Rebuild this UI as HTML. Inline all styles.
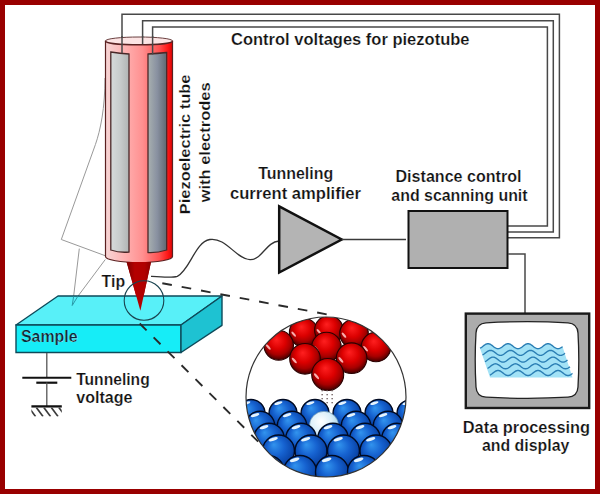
<!DOCTYPE html>
<html><head><meta charset="utf-8"><title>STM</title>
<style>
html,body{margin:0;padding:0;background:#fff;}
body{width:600px;height:494px;overflow:hidden;}
svg{display:block;}
text{font-family:"Liberation Sans",sans-serif;font-weight:bold;fill:#111;stroke:#fff;stroke-width:0.2px;}
</style></head>
<body>
<svg width="600" height="494" viewBox="0 0 600 494">
<defs>
 <linearGradient id="tubeG" x1="105" y1="0" x2="173" y2="0" gradientUnits="userSpaceOnUse">
  <stop offset="0" stop-color="#f6d6d6"/>
  <stop offset="0.3" stop-color="#ffb0b0"/>
  <stop offset="0.55" stop-color="#ff9090"/>
  <stop offset="0.8" stop-color="#ff5050"/>
  <stop offset="0.92" stop-color="#ff1818"/>
  <stop offset="1" stop-color="#d80000"/>
 </linearGradient>
 <linearGradient id="elL" x1="0" y1="0" x2="1" y2="0">
  <stop offset="0" stop-color="#d6dada"/>
  <stop offset="0.5" stop-color="#c8cccc"/>
  <stop offset="1" stop-color="#b0b4b4"/>
 </linearGradient>
 <linearGradient id="elR" x1="0" y1="0" x2="1" y2="0">
  <stop offset="0" stop-color="#a8b0b0"/>
  <stop offset="0.5" stop-color="#8890a0"/>
  <stop offset="1" stop-color="#606870"/>
 </linearGradient>
 <linearGradient id="tipG" x1="126" y1="0" x2="151" y2="0" gradientUnits="userSpaceOnUse">
  <stop offset="0" stop-color="#780000"/>
  <stop offset="0.35" stop-color="#b40000"/>
  <stop offset="0.75" stop-color="#b00000"/>
  <stop offset="1" stop-color="#8a0000"/>
 </linearGradient>
 <radialGradient id="red" cx="0.5" cy="0.42" r="0.6" fx="0.42" fy="0.3">
  <stop offset="0" stop-color="#ff2020"/>
  <stop offset="0.45" stop-color="#dc0000"/>
  <stop offset="0.72" stop-color="#a80000"/>
  <stop offset="0.9" stop-color="#600000"/>
  <stop offset="1" stop-color="#2a0000"/>
 </radialGradient>
 <radialGradient id="blue" cx="0.5" cy="0.45" r="0.6" fx="0.35" fy="0.3">
  <stop offset="0" stop-color="#3294ee"/>
  <stop offset="0.45" stop-color="#1662d0"/>
  <stop offset="0.8" stop-color="#0a46aa"/>
  <stop offset="0.95" stop-color="#052670"/>
  <stop offset="1" stop-color="#001238"/>
 </radialGradient>
 <radialGradient id="lblue" cx="0.4" cy="0.35" r="0.7">
  <stop offset="0" stop-color="#ffffff"/>
  <stop offset="0.5" stop-color="#dcf0fa"/>
  <stop offset="1" stop-color="#98cce8"/>
 </radialGradient>
 <clipPath id="mag"><circle cx="326" cy="397" r="80"/></clipPath>
</defs>

<!-- border -->
<rect x="2.5" y="2.5" width="595" height="489" fill="#fff" stroke="#990000" stroke-width="5"/>

<!-- control wires -->
<g fill="none" stroke="#484848" stroke-width="1.5">
 <polyline points="122,53 122,14.3 559.4,14.3 559.4,237.8 508,237.8"/>
 <polyline points="142.6,43 142.6,20.7 553.3,20.7 553.3,232 508,232"/>
 <polyline points="152.6,54 152.6,27 547.4,27 547.4,226.1 508,226.1"/>
</g>

<!-- ghost bent tube -->
<g fill="none" stroke="#999" stroke-width="1">
 <path d="M105,78 C105,108 100.5,130 95.4,144.6 L61.3,239.5 L106,256"/>
 <path d="M79.3,248.6 L73.6,296.5"/>
 <path d="M105.3,259.5 L77.7,296.5"/>
</g>
<!-- tube -->
<path d="M105.5,41 L105.5,256.5 A33.5,6 0 0 0 172.5,256.5 L172.5,41 Z" fill="url(#tubeG)" stroke="#5a2020" stroke-width="1.2"/>
<ellipse cx="139" cy="40.9" rx="33.5" ry="3.9" fill="#fce4e4"/>
<path d="M105.5,40.9 A33.5,3.9 0 0 1 172.5,40.9" fill="none" stroke="#6a4040" stroke-width="1"/>
<path d="M105.5,40.9 A33.5,3.9 0 0 0 172.5,40.9" fill="none" stroke="#5a2222" stroke-width="1.5"/>
<!-- electrodes -->
<path d="M110.8,52 Q120,53.5 129,54 L129,252 Q120,253 110.8,250 Z" fill="url(#elL)" stroke="#4a2828" stroke-width="1.3"/>
<path d="M148,54 Q157,53.5 166.7,52.5 L166.7,250 Q157,253 148,252.5 Z" fill="url(#elR)" stroke="#4a2828" stroke-width="1.3"/>
<!-- wire ends over tube top -->
<g stroke="#484848" stroke-width="1.5">
 <line x1="122" y1="36" x2="122" y2="53"/>
 <line x1="142.6" y1="36" x2="142.6" y2="44"/>
 <line x1="152.6" y1="36" x2="152.6" y2="54.5"/>
</g>
<!-- tip -->
<polygon points="126.6,262 151,262 140.4,310.8" fill="url(#tipG)"/>

<!-- sample -->
<polygon points="58,296 222,296 181,325 16,325" fill="#58f0f8" stroke="#0d4a5a" stroke-width="1.4" stroke-linejoin="round"/>
<polygon points="16,325 181,325 181,352.5 16,352.5" fill="#16edf7" stroke="#0d4a5a" stroke-width="1.4"/>
<polygon points="181,325 222,296 222,325.3 181,352.5" fill="#1ec2d2" stroke="#0d4a5a" stroke-width="1.4" stroke-linejoin="round"/>

<g fill="none" stroke="#2a9aa8" stroke-width="1">
 <path d="M73.6,296.5 L72.2,305.5 L77.7,296.5"/>
</g>
<!-- tip over sample -->
<polygon points="126.6,262 151,262 140.4,310.8" fill="url(#tipG)"/>

<!-- small circle -->
<circle cx="144" cy="300.5" r="19.8" fill="none" stroke="#1a4450" stroke-width="1.1"/>

<!-- dashed lines -->
<g stroke="#2a2a2a" stroke-width="1.9" stroke-dasharray="9.7,10" fill="none">
 <line x1="162.3" y1="283.2" x2="327.5" y2="314.5"/>
 <line x1="139.7" y1="323.5" x2="258.5" y2="442"/>
</g>

<!-- magnified circle -->
<circle cx="326" cy="397" r="80" fill="#fff"/>
<g clip-path="url(#mag)">
 <circle cx="303.7" cy="332.5" r="14.3" fill="url(#red)" stroke="#2a0000" stroke-width="1.1"/>
 <ellipse cx="293.7" cy="334.1" rx="3.2" ry="1.1" transform="rotate(50 293.7 334.1)" fill="#ffc0c0" opacity="0.9"/>
 <circle cx="328.9" cy="330" r="14.3" fill="url(#red)" stroke="#2a0000" stroke-width="1.1"/>
 <ellipse cx="318.9" cy="331.6" rx="3.2" ry="1.1" transform="rotate(50 318.9 331.6)" fill="#ffc0c0" opacity="0.9"/>
 <circle cx="354" cy="333.6" r="14.3" fill="url(#red)" stroke="#2a0000" stroke-width="1.1"/>
 <ellipse cx="344.0" cy="335.2" rx="3.2" ry="1.1" transform="rotate(50 344.0 335.2)" fill="#ffc0c0" opacity="0.9"/>
 <circle cx="278.7" cy="345.3" r="14.8" fill="url(#red)" stroke="#2a0000" stroke-width="1.1"/>
 <ellipse cx="268.3" cy="347.0" rx="3.4" ry="1.1" transform="rotate(50 268.3 347.0)" fill="#ffc0c0" opacity="0.9"/>
 <circle cx="326.5" cy="347" r="14.8" fill="url(#red)" stroke="#2a0000" stroke-width="1.1"/>
 <ellipse cx="316.1" cy="348.7" rx="3.4" ry="1.1" transform="rotate(50 316.1 348.7)" fill="#ffc0c0" opacity="0.9"/>
 <circle cx="376" cy="347" r="14.8" fill="url(#red)" stroke="#2a0000" stroke-width="1.1"/>
 <ellipse cx="365.6" cy="348.7" rx="3.4" ry="1.1" transform="rotate(50 365.6 348.7)" fill="#ffc0c0" opacity="0.9"/>
 <circle cx="305" cy="358.8" r="15.3" fill="url(#red)" stroke="#2a0000" stroke-width="1.1"/>
 <ellipse cx="294.3" cy="360.5" rx="3.5" ry="1.2" transform="rotate(50 294.3 360.5)" fill="#ffc0c0" opacity="0.9"/>
 <circle cx="351.6" cy="358.2" r="15.3" fill="url(#red)" stroke="#2a0000" stroke-width="1.1"/>
 <ellipse cx="340.9" cy="359.9" rx="3.5" ry="1.2" transform="rotate(50 340.9 359.9)" fill="#ffc0c0" opacity="0.9"/>
 <circle cx="327.7" cy="374.5" r="16.0" fill="url(#red)" stroke="#2a0000" stroke-width="1.1"/>
 <ellipse cx="316.5" cy="376.3" rx="3.6" ry="1.2" transform="rotate(50 316.5 376.3)" fill="#ffc0c0" opacity="0.9"/>
 <g fill="#665555">
  <rect x="321.5" y="390" width="1.3" height="1.3"/><rect x="326.5" y="390" width="1.3" height="1.3"/><rect x="331.5" y="390" width="1.3" height="1.3"/>
  <rect x="321.5" y="394" width="1.3" height="1.3"/><rect x="326.5" y="394" width="1.3" height="1.3"/><rect x="331.5" y="394" width="1.3" height="1.3"/>
  <rect x="321.5" y="398" width="1.3" height="1.3"/><rect x="326.5" y="398" width="1.3" height="1.3"/><rect x="331.5" y="398" width="1.3" height="1.3"/>
  <rect x="321.5" y="402" width="1.3" height="1.3"/><rect x="326.5" y="402" width="1.3" height="1.3"/><rect x="331.5" y="402" width="1.3" height="1.3"/>
 </g>
 <circle cx="219" cy="413.5" r="14" fill="url(#blue)" stroke="#000a22" stroke-width="1.4"/>
 <ellipse cx="214.4" cy="403.1" rx="4.2" ry="1.4" transform="rotate(-18 214.4 403.1)" fill="#f0fbff" opacity="0.95"/>
 <circle cx="251" cy="413.5" r="14" fill="url(#blue)" stroke="#000a22" stroke-width="1.4"/>
 <ellipse cx="246.4" cy="403.1" rx="4.2" ry="1.4" transform="rotate(-18 246.4 403.1)" fill="#f0fbff" opacity="0.95"/>
 <circle cx="283" cy="413.5" r="14" fill="url(#blue)" stroke="#000a22" stroke-width="1.4"/>
 <ellipse cx="278.4" cy="403.1" rx="4.2" ry="1.4" transform="rotate(-18 278.4 403.1)" fill="#f0fbff" opacity="0.95"/>
 <circle cx="315" cy="413.5" r="14" fill="url(#blue)" stroke="#000a22" stroke-width="1.4"/>
 <ellipse cx="310.4" cy="403.1" rx="4.2" ry="1.4" transform="rotate(-18 310.4 403.1)" fill="#f0fbff" opacity="0.95"/>
 <circle cx="347" cy="413.5" r="14" fill="url(#blue)" stroke="#000a22" stroke-width="1.4"/>
 <ellipse cx="342.4" cy="403.1" rx="4.2" ry="1.4" transform="rotate(-18 342.4 403.1)" fill="#f0fbff" opacity="0.95"/>
 <circle cx="379" cy="413.5" r="14" fill="url(#blue)" stroke="#000a22" stroke-width="1.4"/>
 <ellipse cx="374.4" cy="403.1" rx="4.2" ry="1.4" transform="rotate(-18 374.4 403.1)" fill="#f0fbff" opacity="0.95"/>
 <circle cx="411" cy="413.5" r="14" fill="url(#blue)" stroke="#000a22" stroke-width="1.4"/>
 <ellipse cx="406.4" cy="403.1" rx="4.2" ry="1.4" transform="rotate(-18 406.4 403.1)" fill="#f0fbff" opacity="0.95"/>
 <circle cx="228" cy="426" r="14.7" fill="url(#blue)" stroke="#000a22" stroke-width="1.4"/>
 <ellipse cx="223.1" cy="415.1" rx="4.4" ry="1.5" transform="rotate(-18 223.1 415.1)" fill="#f0fbff" opacity="0.95"/>
 <circle cx="260" cy="426" r="14.7" fill="url(#blue)" stroke="#000a22" stroke-width="1.4"/>
 <ellipse cx="255.1" cy="415.1" rx="4.4" ry="1.5" transform="rotate(-18 255.1 415.1)" fill="#f0fbff" opacity="0.95"/>
 <circle cx="292" cy="426" r="14.7" fill="url(#blue)" stroke="#000a22" stroke-width="1.4"/>
 <ellipse cx="287.1" cy="415.1" rx="4.4" ry="1.5" transform="rotate(-18 287.1 415.1)" fill="#f0fbff" opacity="0.95"/>
 <circle cx="324" cy="426" r="14.7" fill="url(#lblue)" stroke="#5080a0" stroke-width="0.6"/>
 <circle cx="356" cy="426" r="14.7" fill="url(#blue)" stroke="#000a22" stroke-width="1.4"/>
 <ellipse cx="351.1" cy="415.1" rx="4.4" ry="1.5" transform="rotate(-18 351.1 415.1)" fill="#f0fbff" opacity="0.95"/>
 <circle cx="388" cy="426" r="14.7" fill="url(#blue)" stroke="#000a22" stroke-width="1.4"/>
 <ellipse cx="383.1" cy="415.1" rx="4.4" ry="1.5" transform="rotate(-18 383.1 415.1)" fill="#f0fbff" opacity="0.95"/>
 <circle cx="420" cy="426" r="14.7" fill="url(#blue)" stroke="#000a22" stroke-width="1.4"/>
 <ellipse cx="415.1" cy="415.1" rx="4.4" ry="1.5" transform="rotate(-18 415.1 415.1)" fill="#f0fbff" opacity="0.95"/>
 <circle cx="237" cy="438.5" r="15.3" fill="url(#blue)" stroke="#000a22" stroke-width="1.4"/>
 <ellipse cx="232.0" cy="427.2" rx="4.6" ry="1.5" transform="rotate(-18 232.0 427.2)" fill="#f0fbff" opacity="0.95"/>
 <circle cx="269" cy="438.5" r="15.3" fill="url(#blue)" stroke="#000a22" stroke-width="1.4"/>
 <ellipse cx="264.0" cy="427.2" rx="4.6" ry="1.5" transform="rotate(-18 264.0 427.2)" fill="#f0fbff" opacity="0.95"/>
 <circle cx="301" cy="438.5" r="15.3" fill="url(#blue)" stroke="#000a22" stroke-width="1.4"/>
 <ellipse cx="296.0" cy="427.2" rx="4.6" ry="1.5" transform="rotate(-18 296.0 427.2)" fill="#f0fbff" opacity="0.95"/>
 <circle cx="333" cy="438.5" r="15.3" fill="url(#blue)" stroke="#000a22" stroke-width="1.4"/>
 <ellipse cx="328.0" cy="427.2" rx="4.6" ry="1.5" transform="rotate(-18 328.0 427.2)" fill="#f0fbff" opacity="0.95"/>
 <circle cx="365" cy="438.5" r="15.3" fill="url(#blue)" stroke="#000a22" stroke-width="1.4"/>
 <ellipse cx="360.0" cy="427.2" rx="4.6" ry="1.5" transform="rotate(-18 360.0 427.2)" fill="#f0fbff" opacity="0.95"/>
 <circle cx="397" cy="438.5" r="15.3" fill="url(#blue)" stroke="#000a22" stroke-width="1.4"/>
 <ellipse cx="392.0" cy="427.2" rx="4.6" ry="1.5" transform="rotate(-18 392.0 427.2)" fill="#f0fbff" opacity="0.95"/>
 <circle cx="246" cy="451" r="16" fill="url(#blue)" stroke="#000a22" stroke-width="1.4"/>
 <ellipse cx="240.7" cy="439.2" rx="4.8" ry="1.6" transform="rotate(-18 240.7 439.2)" fill="#f0fbff" opacity="0.95"/>
 <circle cx="278.5" cy="451" r="16" fill="url(#blue)" stroke="#000a22" stroke-width="1.4"/>
 <ellipse cx="273.2" cy="439.2" rx="4.8" ry="1.6" transform="rotate(-18 273.2 439.2)" fill="#f0fbff" opacity="0.95"/>
 <circle cx="311" cy="451" r="16" fill="url(#blue)" stroke="#000a22" stroke-width="1.4"/>
 <ellipse cx="305.7" cy="439.2" rx="4.8" ry="1.6" transform="rotate(-18 305.7 439.2)" fill="#f0fbff" opacity="0.95"/>
 <circle cx="343.5" cy="451" r="16" fill="url(#blue)" stroke="#000a22" stroke-width="1.4"/>
 <ellipse cx="338.2" cy="439.2" rx="4.8" ry="1.6" transform="rotate(-18 338.2 439.2)" fill="#f0fbff" opacity="0.95"/>
 <circle cx="376" cy="451" r="16" fill="url(#blue)" stroke="#000a22" stroke-width="1.4"/>
 <ellipse cx="370.7" cy="439.2" rx="4.8" ry="1.6" transform="rotate(-18 370.7 439.2)" fill="#f0fbff" opacity="0.95"/>
 <circle cx="408" cy="451" r="16" fill="url(#blue)" stroke="#000a22" stroke-width="1.4"/>
 <ellipse cx="402.7" cy="439.2" rx="4.8" ry="1.6" transform="rotate(-18 402.7 439.2)" fill="#f0fbff" opacity="0.95"/>
 <circle cx="236" cy="472" r="16.5" fill="url(#blue)" stroke="#000a22" stroke-width="1.4"/>
 <ellipse cx="230.6" cy="459.8" rx="5.0" ry="1.7" transform="rotate(-18 230.6 459.8)" fill="#f0fbff" opacity="0.95"/>
 <circle cx="268" cy="472" r="16.5" fill="url(#blue)" stroke="#000a22" stroke-width="1.4"/>
 <ellipse cx="262.6" cy="459.8" rx="5.0" ry="1.7" transform="rotate(-18 262.6 459.8)" fill="#f0fbff" opacity="0.95"/>
 <circle cx="300" cy="472" r="16.5" fill="url(#blue)" stroke="#000a22" stroke-width="1.4"/>
 <ellipse cx="294.6" cy="459.8" rx="5.0" ry="1.7" transform="rotate(-18 294.6 459.8)" fill="#f0fbff" opacity="0.95"/>
 <circle cx="332" cy="472" r="16.5" fill="url(#blue)" stroke="#000a22" stroke-width="1.4"/>
 <ellipse cx="326.6" cy="459.8" rx="5.0" ry="1.7" transform="rotate(-18 326.6 459.8)" fill="#f0fbff" opacity="0.95"/>
 <circle cx="364" cy="472" r="16.5" fill="url(#blue)" stroke="#000a22" stroke-width="1.4"/>
 <ellipse cx="358.6" cy="459.8" rx="5.0" ry="1.7" transform="rotate(-18 358.6 459.8)" fill="#f0fbff" opacity="0.95"/>
 <circle cx="396" cy="472" r="16.5" fill="url(#blue)" stroke="#000a22" stroke-width="1.4"/>
 <ellipse cx="390.6" cy="459.8" rx="5.0" ry="1.7" transform="rotate(-18 390.6 459.8)" fill="#f0fbff" opacity="0.95"/>
</g>
<circle cx="326" cy="397" r="80" fill="none" stroke="#333" stroke-width="1.2"/>

<!-- battery -->
<defs><clipPath id="hatch"><rect x="31.4" y="407.4" width="30.4" height="9"/></clipPath></defs>
<g fill="none">
 <line x1="46.8" y1="353" x2="46.8" y2="377.6" stroke="#555" stroke-width="1.3"/>
 <line x1="22.3" y1="377.8" x2="71.3" y2="377.8" stroke="#111" stroke-width="2"/>
 <line x1="36.3" y1="382.7" x2="57.3" y2="382.7" stroke="#111" stroke-width="2.2"/>
 <line x1="46.8" y1="382.6" x2="46.8" y2="406.4" stroke="#555" stroke-width="1.3"/>
 <line x1="31.4" y1="406.4" x2="61.8" y2="406.4" stroke="#111" stroke-width="2.3"/>
 <g stroke="#3a3a3a" stroke-width="1.6" clip-path="url(#hatch)">
  <line x1="28.8" y1="407.4" x2="35.55" y2="416.4"/>
  <line x1="36.3" y1="407.4" x2="43.05" y2="416.4"/>
  <line x1="43.8" y1="407.4" x2="50.55" y2="416.4"/>
  <line x1="51.3" y1="407.4" x2="58.05" y2="416.4"/>
  <line x1="58.8" y1="407.4" x2="65.55" y2="416.4"/>
 </g>
</g>

<!-- wavy wire -->
<path d="M151,276.3 C160,277 172,278 177.3,276.3 C190,270 195,242 209.8,239.5 C226,237 236,259 250,259.7 C262,260 266,242 279,241" fill="none" stroke="#333" stroke-width="1.3"/>

<!-- amplifier -->
<polygon points="279.2,206.3 341.7,239.5 279.2,272.5" fill="#b4b4b4" stroke="#111" stroke-width="2.5" stroke-linejoin="miter"/>
<line x1="341.7" y1="239.5" x2="406" y2="239.5" stroke="#3a3a3a" stroke-width="1.6"/>

<!-- distance control box -->
<rect x="408.5" y="211" width="99" height="57" fill="#b0b0b0" stroke="#111" stroke-width="2"/>
<polyline points="508,254 525,254 525,313" fill="none" stroke="#484848" stroke-width="1.5"/>

<!-- monitor -->
<rect x="465.8" y="313.6" width="123.4" height="94.4" fill="#acacac" stroke="#1a1a1a" stroke-width="2.4"/>
<path d="M486,322.8 C510,321.5 545,321.5 568,322.8 Q577.5,323.5 578,333 C579,350 579,370 578,387 Q577.5,396.5 568,397.2 C545,398.5 510,398.5 486,397.2 Q476.5,396.5 476,387 C475,370 475,350 476,333 Q476.5,323.5 486,322.8 Z" fill="#fff" stroke="#222" stroke-width="1.3"/>
<!-- waves -->
<path d="M480.0,348.22 L480.5,347.97 L481.0,347.67 L481.5,347.33 L482.0,346.97 L482.5,346.59 L483.0,346.20 L483.5,345.81 L484.0,345.43 L484.5,345.07 L485.0,344.73 L485.5,344.43 L486.0,344.18 L486.5,343.97 L487.0,343.82 L487.5,343.73 L488.0,343.70 L488.5,343.73 L489.0,343.82 L489.5,343.97 L490.0,344.18 L490.5,344.43 L491.0,344.73 L491.5,345.07 L492.0,345.43 L492.5,345.81 L493.0,346.20 L493.5,346.59 L494.0,346.97 L494.5,347.33 L495.0,347.67 L495.5,347.97 L496.0,348.22 L496.5,348.43 L497.0,348.58 L497.5,348.67 L498.0,348.70 L498.5,348.67 L499.0,348.58 L499.5,348.43 L500.0,348.22 L500.5,347.97 L501.0,347.67 L501.5,347.33 L502.0,346.97 L502.5,346.59 L503.0,346.20 L503.5,345.81 L504.0,345.43 L504.5,345.07 L505.0,344.73 L505.5,344.43 L506.0,344.18 L506.5,343.97 L507.0,343.82 L507.5,343.73 L508.0,343.70 L508.5,343.73 L509.0,343.82 L509.5,343.97 L510.0,344.18 L510.5,344.43 L511.0,344.73 L511.5,345.07 L512.0,345.43 L512.5,345.81 L513.0,346.20 L513.5,346.59 L514.0,346.97 L514.5,347.33 L515.0,347.67 L515.5,347.97 L516.0,348.22 L516.5,348.43 L517.0,348.58 L517.5,348.67 L518.0,348.70 L518.5,348.67 L519.0,348.58 L519.5,348.43 L520.0,348.22 L520.5,347.97 L521.0,347.67 L521.5,347.33 L522.0,346.97 L522.5,346.59 L523.0,346.20 L523.5,345.81 L524.0,345.43 L524.5,345.07 L525.0,344.73 L525.5,344.43 L526.0,344.18 L526.5,343.97 L527.0,343.82 L527.5,343.73 L528.0,343.70 L528.5,343.73 L529.0,343.82 L529.5,343.97 L530.0,344.18 L530.5,344.43 L531.0,344.73 L531.5,345.07 L532.0,345.43 L532.5,345.81 L533.0,346.20 L533.5,346.59 L534.0,346.97 L534.5,347.33 L535.0,347.67 L535.5,347.97 L536.0,348.22 L536.5,348.43 L537.0,348.58 L537.5,348.67 L538.0,348.70 L538.5,348.67 L539.0,348.58 L539.5,348.43 L540.0,348.22 L540.5,347.97 L541.0,347.67 L541.5,347.33 L542.0,346.97 L542.5,346.59 L543.0,346.20 L543.5,345.81 L544.0,345.43 L544.5,345.07 L545.0,344.73 L545.5,344.43 L546.0,344.18 L546.5,343.97 L547.0,343.82 L547.5,343.73 L548.0,343.70 L548.5,343.73 L549.0,343.82 L549.5,343.97 L550.0,344.18 L550.5,344.43 L551.0,344.73 L551.5,345.07 L552.0,345.43 L552.5,345.81 L553.0,346.20 L553.5,346.59 L554.0,346.97 L554.5,347.33 L555.0,347.67 L555.5,347.97 L556.0,348.22 L556.5,348.43 L557.0,348.58 L557.5,348.67 L558.0,348.70 L558.5,348.67 L559.0,348.58 L559.5,348.43 L560.0,348.22 L560.5,347.97 L561.0,347.67 L561.5,347.33 L562.0,346.97 L562.5,346.59 L572.5,377.5 L490,377.5 Z" fill="#a2e2f6"/>
<g fill="none" stroke="#2a7eb4" stroke-width="1.4">
 <path d="M480.0,348.22 L480.5,347.97 L481.0,347.67 L481.5,347.33 L482.0,346.97 L482.5,346.59 L483.0,346.20 L483.5,345.81 L484.0,345.43 L484.5,345.07 L485.0,344.73 L485.5,344.43 L486.0,344.18 L486.5,343.97 L487.0,343.82 L487.5,343.73 L488.0,343.70 L488.5,343.73 L489.0,343.82 L489.5,343.97 L490.0,344.18 L490.5,344.43 L491.0,344.73 L491.5,345.07 L492.0,345.43 L492.5,345.81 L493.0,346.20 L493.5,346.59 L494.0,346.97 L494.5,347.33 L495.0,347.67 L495.5,347.97 L496.0,348.22 L496.5,348.43 L497.0,348.58 L497.5,348.67 L498.0,348.70 L498.5,348.67 L499.0,348.58 L499.5,348.43 L500.0,348.22 L500.5,347.97 L501.0,347.67 L501.5,347.33 L502.0,346.97 L502.5,346.59 L503.0,346.20 L503.5,345.81 L504.0,345.43 L504.5,345.07 L505.0,344.73 L505.5,344.43 L506.0,344.18 L506.5,343.97 L507.0,343.82 L507.5,343.73 L508.0,343.70 L508.5,343.73 L509.0,343.82 L509.5,343.97 L510.0,344.18 L510.5,344.43 L511.0,344.73 L511.5,345.07 L512.0,345.43 L512.5,345.81 L513.0,346.20 L513.5,346.59 L514.0,346.97 L514.5,347.33 L515.0,347.67 L515.5,347.97 L516.0,348.22 L516.5,348.43 L517.0,348.58 L517.5,348.67 L518.0,348.70 L518.5,348.67 L519.0,348.58 L519.5,348.43 L520.0,348.22 L520.5,347.97 L521.0,347.67 L521.5,347.33 L522.0,346.97 L522.5,346.59 L523.0,346.20 L523.5,345.81 L524.0,345.43 L524.5,345.07 L525.0,344.73 L525.5,344.43 L526.0,344.18 L526.5,343.97 L527.0,343.82 L527.5,343.73 L528.0,343.70 L528.5,343.73 L529.0,343.82 L529.5,343.97 L530.0,344.18 L530.5,344.43 L531.0,344.73 L531.5,345.07 L532.0,345.43 L532.5,345.81 L533.0,346.20 L533.5,346.59 L534.0,346.97 L534.5,347.33 L535.0,347.67 L535.5,347.97 L536.0,348.22 L536.5,348.43 L537.0,348.58 L537.5,348.67 L538.0,348.70 L538.5,348.67 L539.0,348.58 L539.5,348.43 L540.0,348.22 L540.5,347.97 L541.0,347.67 L541.5,347.33 L542.0,346.97 L542.5,346.59 L543.0,346.20 L543.5,345.81 L544.0,345.43 L544.5,345.07 L545.0,344.73 L545.5,344.43 L546.0,344.18 L546.5,343.97 L547.0,343.82 L547.5,343.73 L548.0,343.70 L548.5,343.73 L549.0,343.82 L549.5,343.97 L550.0,344.18 L550.5,344.43 L551.0,344.73 L551.5,345.07 L552.0,345.43 L552.5,345.81 L553.0,346.20 L553.5,346.59 L554.0,346.97 L554.5,347.33 L555.0,347.67 L555.5,347.97 L556.0,348.22 L556.5,348.43 L557.0,348.58 L557.5,348.67 L558.0,348.70 L558.5,348.67 L559.0,348.58 L559.5,348.43 L560.0,348.22 L560.5,347.97 L561.0,347.67 L561.5,347.33 L562.0,346.97 L562.5,346.59"/>
 <path d="M482.5,354.92 L483.0,354.67 L483.5,354.37 L484.0,354.03 L484.5,353.67 L485.0,353.29 L485.5,352.90 L486.0,352.51 L486.5,352.13 L487.0,351.77 L487.5,351.43 L488.0,351.13 L488.5,350.88 L489.0,350.67 L489.5,350.52 L490.0,350.43 L490.5,350.40 L491.0,350.43 L491.5,350.52 L492.0,350.67 L492.5,350.88 L493.0,351.13 L493.5,351.43 L494.0,351.77 L494.5,352.13 L495.0,352.51 L495.5,352.90 L496.0,353.29 L496.5,353.67 L497.0,354.03 L497.5,354.37 L498.0,354.67 L498.5,354.92 L499.0,355.13 L499.5,355.28 L500.0,355.37 L500.5,355.40 L501.0,355.37 L501.5,355.28 L502.0,355.13 L502.5,354.92 L503.0,354.67 L503.5,354.37 L504.0,354.03 L504.5,353.67 L505.0,353.29 L505.5,352.90 L506.0,352.51 L506.5,352.13 L507.0,351.77 L507.5,351.43 L508.0,351.13 L508.5,350.88 L509.0,350.67 L509.5,350.52 L510.0,350.43 L510.5,350.40 L511.0,350.43 L511.5,350.52 L512.0,350.67 L512.5,350.88 L513.0,351.13 L513.5,351.43 L514.0,351.77 L514.5,352.13 L515.0,352.51 L515.5,352.90 L516.0,353.29 L516.5,353.67 L517.0,354.03 L517.5,354.37 L518.0,354.67 L518.5,354.92 L519.0,355.13 L519.5,355.28 L520.0,355.37 L520.5,355.40 L521.0,355.37 L521.5,355.28 L522.0,355.13 L522.5,354.92 L523.0,354.67 L523.5,354.37 L524.0,354.03 L524.5,353.67 L525.0,353.29 L525.5,352.90 L526.0,352.51 L526.5,352.13 L527.0,351.77 L527.5,351.43 L528.0,351.13 L528.5,350.88 L529.0,350.67 L529.5,350.52 L530.0,350.43 L530.5,350.40 L531.0,350.43 L531.5,350.52 L532.0,350.67 L532.5,350.88 L533.0,351.13 L533.5,351.43 L534.0,351.77 L534.5,352.13 L535.0,352.51 L535.5,352.90 L536.0,353.29 L536.5,353.67 L537.0,354.03 L537.5,354.37 L538.0,354.67 L538.5,354.92 L539.0,355.13 L539.5,355.28 L540.0,355.37 L540.5,355.40 L541.0,355.37 L541.5,355.28 L542.0,355.13 L542.5,354.92 L543.0,354.67 L543.5,354.37 L544.0,354.03 L544.5,353.67 L545.0,353.29 L545.5,352.90 L546.0,352.51 L546.5,352.13 L547.0,351.77 L547.5,351.43 L548.0,351.13 L548.5,350.88 L549.0,350.67 L549.5,350.52 L550.0,350.43 L550.5,350.40 L551.0,350.43 L551.5,350.52 L552.0,350.67 L552.5,350.88 L553.0,351.13 L553.5,351.43 L554.0,351.77 L554.5,352.13 L555.0,352.51 L555.5,352.90 L556.0,353.29 L556.5,353.67 L557.0,354.03 L557.5,354.37 L558.0,354.67 L558.5,354.92 L559.0,355.13 L559.5,355.28 L560.0,355.37 L560.5,355.40 L561.0,355.37 L561.5,355.28 L562.0,355.13 L562.5,354.92 L563.0,354.67 L563.5,354.37 L564.0,354.03 L564.5,353.67 L565.0,353.29"/>
 <path d="M485.0,361.62 L485.5,361.37 L486.0,361.07 L486.5,360.73 L487.0,360.37 L487.5,359.99 L488.0,359.60 L488.5,359.21 L489.0,358.83 L489.5,358.47 L490.0,358.13 L490.5,357.83 L491.0,357.58 L491.5,357.37 L492.0,357.22 L492.5,357.13 L493.0,357.10 L493.5,357.13 L494.0,357.22 L494.5,357.37 L495.0,357.58 L495.5,357.83 L496.0,358.13 L496.5,358.47 L497.0,358.83 L497.5,359.21 L498.0,359.60 L498.5,359.99 L499.0,360.37 L499.5,360.73 L500.0,361.07 L500.5,361.37 L501.0,361.62 L501.5,361.83 L502.0,361.98 L502.5,362.07 L503.0,362.10 L503.5,362.07 L504.0,361.98 L504.5,361.83 L505.0,361.62 L505.5,361.37 L506.0,361.07 L506.5,360.73 L507.0,360.37 L507.5,359.99 L508.0,359.60 L508.5,359.21 L509.0,358.83 L509.5,358.47 L510.0,358.13 L510.5,357.83 L511.0,357.58 L511.5,357.37 L512.0,357.22 L512.5,357.13 L513.0,357.10 L513.5,357.13 L514.0,357.22 L514.5,357.37 L515.0,357.58 L515.5,357.83 L516.0,358.13 L516.5,358.47 L517.0,358.83 L517.5,359.21 L518.0,359.60 L518.5,359.99 L519.0,360.37 L519.5,360.73 L520.0,361.07 L520.5,361.37 L521.0,361.62 L521.5,361.83 L522.0,361.98 L522.5,362.07 L523.0,362.10 L523.5,362.07 L524.0,361.98 L524.5,361.83 L525.0,361.62 L525.5,361.37 L526.0,361.07 L526.5,360.73 L527.0,360.37 L527.5,359.99 L528.0,359.60 L528.5,359.21 L529.0,358.83 L529.5,358.47 L530.0,358.13 L530.5,357.83 L531.0,357.58 L531.5,357.37 L532.0,357.22 L532.5,357.13 L533.0,357.10 L533.5,357.13 L534.0,357.22 L534.5,357.37 L535.0,357.58 L535.5,357.83 L536.0,358.13 L536.5,358.47 L537.0,358.83 L537.5,359.21 L538.0,359.60 L538.5,359.99 L539.0,360.37 L539.5,360.73 L540.0,361.07 L540.5,361.37 L541.0,361.62 L541.5,361.83 L542.0,361.98 L542.5,362.07 L543.0,362.10 L543.5,362.07 L544.0,361.98 L544.5,361.83 L545.0,361.62 L545.5,361.37 L546.0,361.07 L546.5,360.73 L547.0,360.37 L547.5,359.99 L548.0,359.60 L548.5,359.21 L549.0,358.83 L549.5,358.47 L550.0,358.13 L550.5,357.83 L551.0,357.58 L551.5,357.37 L552.0,357.22 L552.5,357.13 L553.0,357.10 L553.5,357.13 L554.0,357.22 L554.5,357.37 L555.0,357.58 L555.5,357.83 L556.0,358.13 L556.5,358.47 L557.0,358.83 L557.5,359.21 L558.0,359.60 L558.5,359.99 L559.0,360.37 L559.5,360.73 L560.0,361.07 L560.5,361.37 L561.0,361.62 L561.5,361.83 L562.0,361.98 L562.5,362.07 L563.0,362.10 L563.5,362.07 L564.0,361.98 L564.5,361.83 L565.0,361.62 L565.5,361.37 L566.0,361.07 L566.5,360.73 L567.0,360.37 L567.5,359.99"/>
 <path d="M487.5,368.32 L488.0,368.07 L488.5,367.77 L489.0,367.43 L489.5,367.07 L490.0,366.69 L490.5,366.30 L491.0,365.91 L491.5,365.53 L492.0,365.17 L492.5,364.83 L493.0,364.53 L493.5,364.28 L494.0,364.07 L494.5,363.92 L495.0,363.83 L495.5,363.80 L496.0,363.83 L496.5,363.92 L497.0,364.07 L497.5,364.28 L498.0,364.53 L498.5,364.83 L499.0,365.17 L499.5,365.53 L500.0,365.91 L500.5,366.30 L501.0,366.69 L501.5,367.07 L502.0,367.43 L502.5,367.77 L503.0,368.07 L503.5,368.32 L504.0,368.53 L504.5,368.68 L505.0,368.77 L505.5,368.80 L506.0,368.77 L506.5,368.68 L507.0,368.53 L507.5,368.32 L508.0,368.07 L508.5,367.77 L509.0,367.43 L509.5,367.07 L510.0,366.69 L510.5,366.30 L511.0,365.91 L511.5,365.53 L512.0,365.17 L512.5,364.83 L513.0,364.53 L513.5,364.28 L514.0,364.07 L514.5,363.92 L515.0,363.83 L515.5,363.80 L516.0,363.83 L516.5,363.92 L517.0,364.07 L517.5,364.28 L518.0,364.53 L518.5,364.83 L519.0,365.17 L519.5,365.53 L520.0,365.91 L520.5,366.30 L521.0,366.69 L521.5,367.07 L522.0,367.43 L522.5,367.77 L523.0,368.07 L523.5,368.32 L524.0,368.53 L524.5,368.68 L525.0,368.77 L525.5,368.80 L526.0,368.77 L526.5,368.68 L527.0,368.53 L527.5,368.32 L528.0,368.07 L528.5,367.77 L529.0,367.43 L529.5,367.07 L530.0,366.69 L530.5,366.30 L531.0,365.91 L531.5,365.53 L532.0,365.17 L532.5,364.83 L533.0,364.53 L533.5,364.28 L534.0,364.07 L534.5,363.92 L535.0,363.83 L535.5,363.80 L536.0,363.83 L536.5,363.92 L537.0,364.07 L537.5,364.28 L538.0,364.53 L538.5,364.83 L539.0,365.17 L539.5,365.53 L540.0,365.91 L540.5,366.30 L541.0,366.69 L541.5,367.07 L542.0,367.43 L542.5,367.77 L543.0,368.07 L543.5,368.32 L544.0,368.53 L544.5,368.68 L545.0,368.77 L545.5,368.80 L546.0,368.77 L546.5,368.68 L547.0,368.53 L547.5,368.32 L548.0,368.07 L548.5,367.77 L549.0,367.43 L549.5,367.07 L550.0,366.69 L550.5,366.30 L551.0,365.91 L551.5,365.53 L552.0,365.17 L552.5,364.83 L553.0,364.53 L553.5,364.28 L554.0,364.07 L554.5,363.92 L555.0,363.83 L555.5,363.80 L556.0,363.83 L556.5,363.92 L557.0,364.07 L557.5,364.28 L558.0,364.53 L558.5,364.83 L559.0,365.17 L559.5,365.53 L560.0,365.91 L560.5,366.30 L561.0,366.69 L561.5,367.07 L562.0,367.43 L562.5,367.77 L563.0,368.07 L563.5,368.32 L564.0,368.53 L564.5,368.68 L565.0,368.77 L565.5,368.80 L566.0,368.77 L566.5,368.68 L567.0,368.53 L567.5,368.32 L568.0,368.07 L568.5,367.77 L569.0,367.43 L569.5,367.07 L570.0,366.69"/>
 <path d="M490.0,375.02 L490.5,374.77 L491.0,374.47 L491.5,374.13 L492.0,373.77 L492.5,373.39 L493.0,373.00 L493.5,372.61 L494.0,372.23 L494.5,371.87 L495.0,371.53 L495.5,371.23 L496.0,370.98 L496.5,370.77 L497.0,370.62 L497.5,370.53 L498.0,370.50 L498.5,370.53 L499.0,370.62 L499.5,370.77 L500.0,370.98 L500.5,371.23 L501.0,371.53 L501.5,371.87 L502.0,372.23 L502.5,372.61 L503.0,373.00 L503.5,373.39 L504.0,373.77 L504.5,374.13 L505.0,374.47 L505.5,374.77 L506.0,375.02 L506.5,375.23 L507.0,375.38 L507.5,375.47 L508.0,375.50 L508.5,375.47 L509.0,375.38 L509.5,375.23 L510.0,375.02 L510.5,374.77 L511.0,374.47 L511.5,374.13 L512.0,373.77 L512.5,373.39 L513.0,373.00 L513.5,372.61 L514.0,372.23 L514.5,371.87 L515.0,371.53 L515.5,371.23 L516.0,370.98 L516.5,370.77 L517.0,370.62 L517.5,370.53 L518.0,370.50 L518.5,370.53 L519.0,370.62 L519.5,370.77 L520.0,370.98 L520.5,371.23 L521.0,371.53 L521.5,371.87 L522.0,372.23 L522.5,372.61 L523.0,373.00 L523.5,373.39 L524.0,373.77 L524.5,374.13 L525.0,374.47 L525.5,374.77 L526.0,375.02 L526.5,375.23 L527.0,375.38 L527.5,375.47 L528.0,375.50 L528.5,375.47 L529.0,375.38 L529.5,375.23 L530.0,375.02 L530.5,374.77 L531.0,374.47 L531.5,374.13 L532.0,373.77 L532.5,373.39 L533.0,373.00 L533.5,372.61 L534.0,372.23 L534.5,371.87 L535.0,371.53 L535.5,371.23 L536.0,370.98 L536.5,370.77 L537.0,370.62 L537.5,370.53 L538.0,370.50 L538.5,370.53 L539.0,370.62 L539.5,370.77 L540.0,370.98 L540.5,371.23 L541.0,371.53 L541.5,371.87 L542.0,372.23 L542.5,372.61 L543.0,373.00 L543.5,373.39 L544.0,373.77 L544.5,374.13 L545.0,374.47 L545.5,374.77 L546.0,375.02 L546.5,375.23 L547.0,375.38 L547.5,375.47 L548.0,375.50 L548.5,375.47 L549.0,375.38 L549.5,375.23 L550.0,375.02 L550.5,374.77 L551.0,374.47 L551.5,374.13 L552.0,373.77 L552.5,373.39 L553.0,373.00 L553.5,372.61 L554.0,372.23 L554.5,371.87 L555.0,371.53 L555.5,371.23 L556.0,370.98 L556.5,370.77 L557.0,370.62 L557.5,370.53 L558.0,370.50 L558.5,370.53 L559.0,370.62 L559.5,370.77 L560.0,370.98 L560.5,371.23 L561.0,371.53 L561.5,371.87 L562.0,372.23 L562.5,372.61 L563.0,373.00 L563.5,373.39 L564.0,373.77 L564.5,374.13 L565.0,374.47 L565.5,374.77 L566.0,375.02 L566.5,375.23 L567.0,375.38 L567.5,375.47 L568.0,375.50 L568.5,375.47 L569.0,375.38 L569.5,375.23 L570.0,375.02 L570.5,374.77 L571.0,374.47 L571.5,374.13 L572.0,373.77 L572.5,373.39"/>
</g>

<!-- texts -->
<text x="231" y="45" font-size="15.8" textLength="238.5" lengthAdjust="spacingAndGlyphs">Control voltages for piezotube</text>
<text x="258.2" y="178.8" font-size="15.8" textLength="75" lengthAdjust="spacingAndGlyphs">Tunneling</text>
<text x="230" y="198.5" font-size="15.8" textLength="131" lengthAdjust="spacingAndGlyphs">current amplifier</text>
<text x="395.5" y="182.2" font-size="15.8" textLength="126" lengthAdjust="spacingAndGlyphs">Distance control</text>
<text x="391.3" y="201.2" font-size="15.8" textLength="136.3" lengthAdjust="spacingAndGlyphs">and scanning unit</text>
<text x="462.8" y="432.8" font-size="15.8" textLength="127.3" lengthAdjust="spacingAndGlyphs">Data processing</text>
<text x="482" y="451" font-size="15.8" textLength="87.3" lengthAdjust="spacingAndGlyphs">and display</text>
<text x="101.6" y="287.4" font-size="15.8" textLength="23.5" lengthAdjust="spacingAndGlyphs">Tip</text>
<text x="21" y="342" font-size="15.8" textLength="56.5" lengthAdjust="spacingAndGlyphs" style="fill:#062838">Sample</text>
<text x="76.2" y="385.4" font-size="15.8" textLength="73.5" lengthAdjust="spacingAndGlyphs">Tunneling</text>
<text x="76.2" y="403" font-size="15.8" textLength="56.3" lengthAdjust="spacingAndGlyphs">voltage</text>
<text transform="translate(190.2,214.2) rotate(-90)" font-size="15.5" textLength="139.6" lengthAdjust="spacingAndGlyphs">Piezoelectric tube</text>
<text transform="translate(210.2,202.3) rotate(-90)" font-size="15.5" textLength="119.9" lengthAdjust="spacingAndGlyphs">with electrodes</text>
</svg>
</body></html>
